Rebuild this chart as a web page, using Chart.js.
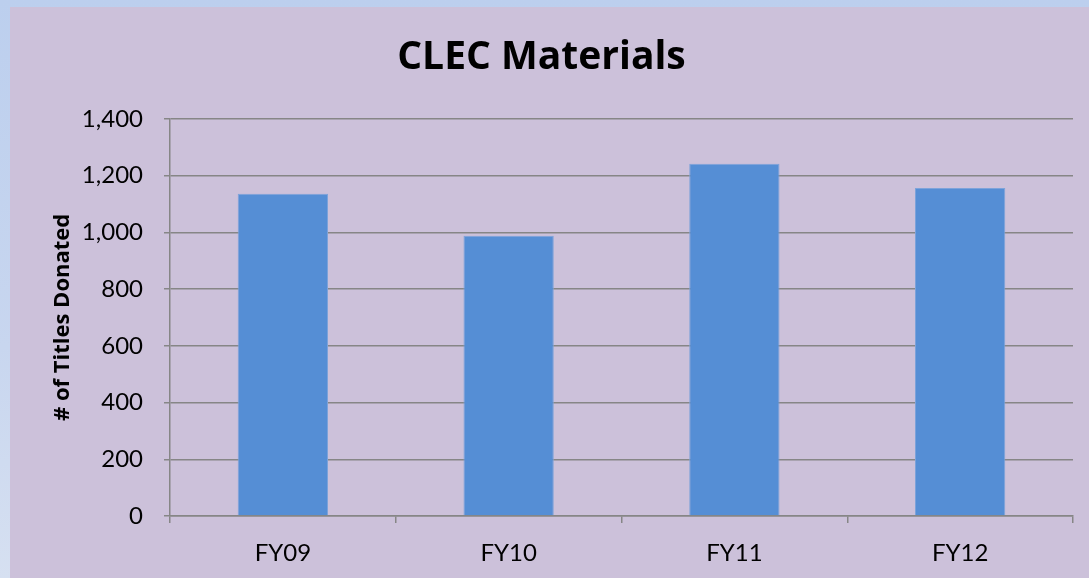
<!DOCTYPE html>
<html>
<head>
<meta charset="utf-8">
<script src="https://cdn.jsdelivr.net/npm/chart.js@4/dist/chart.umd.min.js"></script>
<style>
  html, body { margin: 0; padding: 0; }
  body {
    width: 1089px; height: 578px; overflow: hidden; position: relative;
    background: linear-gradient(to bottom, #BCCFEE 0%, #C8D6EF 60%, #D6E0F1 100%);
  }
  #wrap {
    position: absolute; left: 10px; top: 7px; width: 1079px; height: 571px;
    background: #CCC1DA;
  }
</style>
</head>
<body>
<div id="wrap"><canvas id="c" width="1079" height="571"></canvas></div>
<script>
const categories = ["FY09", "FY10", "FY11", "FY12"];
const titlesDonated = [1136, 988, 1242, 1156];
const yTicks = [0, 200, 400, 600, 800, 1000, 1200, 1400];

const TICKFONT = "Lato, 'Liberation Sans', sans-serif";
const BOLDFONT = "'Open Sans', Lato, sans-serif";

new Chart(document.getElementById('c'), {
  type: 'bar',
  data: {
    labels: categories,
    datasets: [{
      data: titlesDonated,
      backgroundColor: '#558ED5',
      borderColor: '#7DA3DA',
      borderWidth: 1,
      categoryPercentage: 0.4,
      barPercentage: 1.0
    }]
  },
  options: {
    responsive: false,
    animation: false,
    devicePixelRatio: 1,
    layout: { padding: { left: 0, right: 16, top: 0, bottom: 0 } },
    plugins: {
      legend: { display: false },
      tooltip: { enabled: false },
      title: {
        display: true,
        text: 'CLEC Materials',
        color: '#000',
        font: { family: BOLDFONT, size: 39, weight: 'bold' },
        padding: { top: 27, bottom: 38 }
      }
    },
    scales: {
      x: {
        grid: { display: true, drawOnChartArea: false, drawTicks: true, tickLength: 7, color: '#868686', lineWidth: 1.5, offset: true },
        border: { color: '#868686', width: 1.5 },
        ticks: { color: '#000', font: { family: TICKFONT, size: 24 }, padding: 16 },
        afterFit: (s) => { s.height = 62; }
      },
      y: {
        min: 0, max: 1400,
        afterBuildTicks: (s) => { s.ticks = yTicks.map(v => ({ value: v })); },
        grid: { color: '#868686', lineWidth: 1.5, tickLength: 6 },
        border: { color: '#868686', width: 1.5 },
        ticks: {
          color: '#000', font: { family: TICKFONT, size: 24 }, padding: 21,
          callback: (v) => v.toLocaleString('en-US')
        },
        title: {
          display: true,
          text: '# of Titles Donated',
          color: '#000',
          font: { family: BOLDFONT, size: 22, weight: 'bold' },
          padding: { top: 40, bottom: 0 }
        },
        afterFit: (s) => { s.width = 160; }
      }
    }
  }
});
</script>
</body>
</html>
